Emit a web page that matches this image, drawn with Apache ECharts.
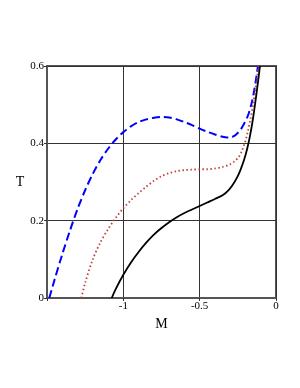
<!DOCTYPE html>
<html><head><meta charset="utf-8">
<script src="https://cdn.jsdelivr.net/npm/echarts@6/dist/echarts.min.js"></script>
<style>html,body{margin:0;padding:0;background:#fff}#c{width:300px;height:388px}</style>
</head><body><div id="c"></div>
<script>
var xTicks = [-1.5, -1, -0.5, 0];
var yTicks = [0, 0.2, 0.4, 0.6];
var blueM = [-1.485,-1.45,-1.40,-1.35,-1.30,-1.25,-1.20,-1.15,-1.10,-1.05,-1.0,-0.95,-0.90,-0.85,-0.80,-0.75,-0.70,-0.65,-0.60,-0.55,-0.50,-0.45,-0.40,-0.35,-0.32,-0.30,-0.27,-0.25,-0.234,-0.21,-0.19,-0.179,-0.16,-0.146,-0.132,-0.118];
var blueT = [0,0.048,0.113,0.174,0.230,0.279,0.321,0.357,0.386,0.410,0.429,0.444,0.455,0.462,0.466,0.468,0.467,0.462,0.455,0.447,0.438,0.430,0.423,0.417,0.415,0.415,0.420,0.427,0.434,0.450,0.466,0.477,0.503,0.530,0.563,0.6];
var redM = [-1.275,-1.25,-1.20,-1.15,-1.10,-1.05,-1.0,-0.95,-0.90,-0.85,-0.80,-0.75,-0.70,-0.65,-0.60,-0.55,-0.50,-0.45,-0.40,-0.35,-0.30,-0.27,-0.245,-0.225,-0.205,-0.185,-0.168,-0.15,-0.136,-0.125,-0.114];
var redT = [0,0.039,0.100,0.144,0.178,0.207,0.232,0.253,0.271,0.288,0.303,0.315,0.323,0.328,0.331,0.332,0.333,0.333,0.335,0.339,0.346,0.354,0.364,0.379,0.400,0.430,0.462,0.500,0.535,0.566,0.6];
var blackM = [-1.076,-1.05,-1.0,-0.95,-0.90,-0.85,-0.80,-0.75,-0.70,-0.65,-0.60,-0.55,-0.50,-0.45,-0.40,-0.35,-0.32,-0.29,-0.26,-0.235,-0.21,-0.19,-0.17,-0.15,-0.13,-0.114,-0.105];
var blackT = [0,0.023,0.060,0.092,0.119,0.143,0.164,0.181,0.196,0.209,0.220,0.229,0.238,0.247,0.256,0.266,0.275,0.289,0.308,0.329,0.356,0.384,0.420,0.466,0.522,0.571,0.6];

function pairs(a,b){return a.map(function(v,i){return [v,b[i]];});}
var font = 'Liberation Serif';
var chart = echarts.init(document.getElementById('c'));
chart.setOption({
  animation:false,
  backgroundColor:'#fff',
  grid:{left:47,right:24,top:66,bottom:90,show:true,borderColor:'#555',borderWidth:2},
  xAxis:{type:'value',min:xTicks[0],max:xTicks[xTicks.length-1],interval:0.5,
    name:'M',nameLocation:'middle',nameGap:13,
    nameTextStyle:{fontFamily:font,fontSize:14,color:'#000'},
    axisLine:{show:true,onZero:false,lineStyle:{color:'#555',width:2}},
    axisTick:{show:true,length:3,lineStyle:{color:'#333'}},
    axisLabel:{fontFamily:font,fontSize:11,color:'#000',margin:3,
      formatter:function(v){return v===-1.5?'':String(v);}},
    splitLine:{show:true,lineStyle:{color:'#333',width:1}}},
  yAxis:{type:'value',min:yTicks[0],max:yTicks[yTicks.length-1],interval:0.2,
    name:'T',nameLocation:'middle',nameGap:21,nameRotate:0,
    nameTextStyle:{fontFamily:font,fontSize:14,color:'#000'},
    axisLine:{show:true,onZero:false,lineStyle:{color:'#555',width:2}},
    axisTick:{show:true,length:3,lineStyle:{color:'#333'}},
    axisLabel:{fontFamily:font,fontSize:11,color:'#000',margin:3,
      formatter:function(v){return String(Math.round(v*10)/10);}},
    splitLine:{show:true,lineStyle:{color:'#333',width:1}}},
  series:[
    {type:'line',data:pairs(blueM,blueT),smooth:0.3,showSymbol:false,
      lineStyle:{color:'#0000ff',width:2,type:[8,4]}},
    {type:'line',data:pairs(redM,redT),smooth:0.3,showSymbol:false,
      lineStyle:{color:'#c0403a',width:1.8,type:[1.5,2.5]}},
    {type:'line',data:pairs(blackM,blackT),smooth:0.3,showSymbol:false,
      lineStyle:{color:'#000',width:1.8}}
  ]
});
</script></body></html>
